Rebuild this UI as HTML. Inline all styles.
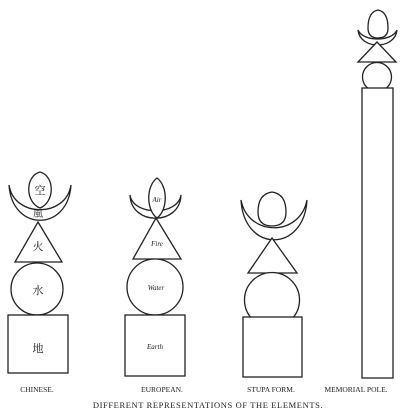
<!DOCTYPE html>
<html><head><meta charset="utf-8"><style>
html,body{margin:0;padding:0;background:#fff;width:400px;height:413px;overflow:hidden}
svg{display:block}
text{font-family:"Liberation Serif","Noto Serif CJK SC",serif;fill:#222}
.s{fill:#fff;stroke:#222;stroke-width:1.3}
</style></head><body>
<svg width="400" height="413" viewBox="0 0 400 413">
<!-- Chinese -->
<g>
<path class="s" d="M9,185 C12,232 68,232 71,185 C66,218 14,218 9,185Z"/>
<path class="s" d="M40,172 C55,176 55,202 40,208 C25,202 25,176 40,172Z"/>
<path class="s" d="M38,222 L62,262 L15,262Z"/>
<circle class="s" cx="37" cy="289" r="26"/>
<rect class="s" x="8" y="315" width="60" height="58"/>
<text x="40" y="194" font-size="11" text-anchor="middle">空</text>
<text x="38" y="217" font-size="10" text-anchor="middle">風</text>
<text x="38" y="250" font-size="11" text-anchor="middle">火</text>
<text x="38" y="294" font-size="11" text-anchor="middle">水</text>
<text x="38" y="352" font-size="11" text-anchor="middle">地</text>
<text x="37" y="392" font-size="7.5" text-anchor="middle">CHINESE.</text>
</g>
<!-- European -->
<g>
<path class="s" d="M130,195 C131,226 180,226 181,195 C178,216 133,216 130,195Z"/>
<path class="s" d="M157,178 C168,186 168,210 157,218 C146,210 146,186 157,178Z"/>
<path class="s" d="M156,218 L181,259 L133,259Z"/>
<circle class="s" cx="155" cy="287" r="28"/>
<rect class="s" x="125" y="315" width="60" height="61"/>
<text x="157" y="202" font-size="7" font-style="italic" text-anchor="middle">Air</text>
<text x="157" y="246" font-size="7" font-style="italic" text-anchor="middle">Fire</text>
<text x="156" y="290" font-size="7" font-style="italic" text-anchor="middle">Water</text>
<text x="155" y="349" font-size="7" font-style="italic" text-anchor="middle">Earth</text>
<text x="162" y="392" font-size="7.5" text-anchor="middle">EUROPEAN.</text>
</g>
<!-- Stupa -->
<g>
<path class="s" d="M241,200 C244,253 304,253 307,200 C300,237 248,237 241,200Z"/>
<path class="s" d="M272,192 Q286,194 286,212 Q286,226 272,226 Q258,226 258,212 Q258,194 272,192Z"/>
<path class="s" d="M272,238 L297,273 L248,273Z"/>
<circle class="s" cx="272" cy="300" r="27.5"/>
<rect class="s" x="243" y="317" width="59" height="60"/>
<text x="271" y="392" font-size="7.5" text-anchor="middle">STUPA FORM.</text>
</g>
<!-- Memorial pole -->
<g>
<path class="s" d="M358,30 C360,50 395,50 397,30 C392,42 363,42 358,30Z"/>
<path class="s" d="M378,10 Q388,12 388,28 Q388,38 378,38 Q368,38 368,28 Q368,12 378,10Z"/>
<path class="s" d="M377,42 L396,62 L358,62Z"/>
<circle class="s" cx="377" cy="77" r="14.5"/>
<rect class="s" x="362" y="88" width="31" height="290"/>
<text x="356" y="392" font-size="7.5" text-anchor="middle">MEMORIAL POLE.</text>
</g>
<text x="208" y="408" font-size="8.5" text-anchor="middle" letter-spacing="0.6">DIFFERENT REPRESENTATIONS OF THE ELEMENTS.</text>
</svg>
</body></html>
